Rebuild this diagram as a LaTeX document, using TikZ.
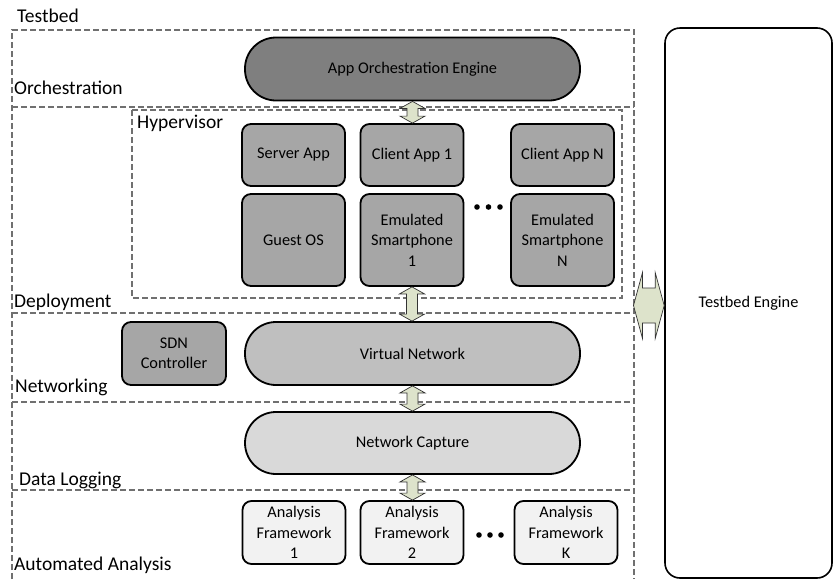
\documentclass[tikz,border=0pt]{standalone}
\usepackage{fontspec}
\setmainfont{Carlito}
\usetikzlibrary{calc}
\definecolor{orchc}{HTML}{7F7F7F}
\definecolor{hypc}{HTML}{A6A6A6}
\definecolor{vnc}{HTML}{BFBFBF}
\definecolor{ncc}{HTML}{D9D9D9}
\definecolor{afc}{HTML}{F2F2F2}
\definecolor{arrc}{HTML}{DDE3CB}
\definecolor{dashc}{HTML}{707070}
\tikzset{
  frameline/.style={draw=dashc, line width=1.1pt, dash pattern=on 6pt off 3pt},
  layerlabel/.style={anchor=base west, inner sep=0pt, font=\fontsize{19.5}{22}\selectfont},
  box/.style={draw=black, line width=1.8pt, rounded corners=9pt, align=center,
    inner sep=0pt, font=\fontsize{16.3}{20.5}\selectfont},
  smallbox/.style={box, minimum width=103pt, minimum height=62pt},
  tallbox/.style={box, minimum width=103pt, minimum height=92pt},
  stadium/.style={box, rounded corners=31pt, minimum width=335pt, minimum height=63pt},
  arrowbody/.style={draw=black!80, line width=0.7pt, fill=arrc},
  dotmark/.style={fill=black}
}
\newcommand{\vdarrow}[2]{%
  \path let \p1=(#1.south), \p2=(#2.north) in
    [arrowbody] (\x1,\y1) -- ({\x1+12.5pt},{\y1-7pt}) -- ({\x1+5.5pt},{\y1-7pt})
    -- ({\x1+5.5pt},{\y2+7pt}) -- ({\x1+12.5pt},{\y2+7pt}) -- (\x1,\y2)
    -- ({\x1-12.5pt},{\y2+7pt}) -- ({\x1-5.5pt},{\y2+7pt})
    -- ({\x1-5.5pt},{\y1-7pt}) -- ({\x1-12.5pt},{\y1-7pt}) -- cycle;}
\begin{document}
\begin{tikzpicture}[x=1pt,y=-1pt]
\useasboundingbox (0,0) rectangle (833,579);

% outer testbed frame and layer dividers
\draw[frameline] (12,579) -- (12,30) -- (634,30) -- (634,579);
\foreach \yy in {107,313,402,490} \draw[frameline] (12,\yy) -- (634,\yy);
% hypervisor frame
\draw[frameline] (132,110) rectangle (622,298);

% layer labels
\node[layerlabel] (lTestbed) at (17,22) {Testbed};
\node[layerlabel] (lOrch) at (14,94) {Orchestration};
\node[layerlabel] (lHyp) at (137,128) {Hypervisor};
\node[layerlabel] (lDep) at (14,307) {Deployment};
\node[layerlabel] (lNet) at (15,392) {Networking};
\node[layerlabel] (lLog) at (19,485) {Data Logging};
\node[layerlabel] (lAna) at (14,570) {Automated Analysis};

% boxes
\node[stadium, fill=orchc] (orch) at (412.5,69) {App Orchestration Engine};
\node[smallbox, fill=hypc] (server) at (293.5,155) {Server App};
\node[smallbox, fill=hypc] (client1) at (412,155) {Client App 1};
\node[smallbox, fill=hypc] (clientN) at (562.5,155) {Client App N};
\node[tallbox, fill=hypc] (guest) at (293.5,240) {Guest OS};
\node[tallbox, fill=hypc] (emu1) at (412,240) {Emulated\\Smartphone\\1};
\node[tallbox, fill=hypc] (emuN) at (562.5,240) {Emulated\\Smartphone\\N};
\node[box, fill=hypc, minimum width=104pt, minimum height=63pt] (sdn) at (174,353.5) {SDN\\Controller};
\node[stadium, fill=vnc] (vn) at (412.5,353.5) {Virtual Network};
\node[stadium, fill=ncc, minimum height=62pt] (nc) at (412.5,443) {Network Capture};
\node[smallbox, fill=afc, minimum height=63pt] (af1) at (294,532.5) {Analysis\\Framework\\1};
\node[smallbox, fill=afc, minimum height=63pt] (af2) at (412,532.5) {Analysis\\Framework\\2};
\node[smallbox, fill=afc, minimum height=63pt] (afK) at (566,532.5) {Analysis\\Framework\\K};
\node[box, rounded corners=15pt, line width=1.6pt, minimum width=167pt, minimum height=550pt] (engine) at (748.5,303) {Testbed Engine};

% ellipsis dots
\foreach \xx in {477,488.5,500} \fill[dotmark] (\xx,207) circle (2.8pt);
\foreach \xx in {479,490,501} \fill[dotmark] (\xx,535) circle (2.8pt);

% vertical double arrows
\vdarrow{orch}{client1}
\vdarrow{emu1}{vn}
\vdarrow{vn}{nc}
\vdarrow{nc}{af2}

% horizontal double arrow between testbed and engine
\coordinate (frameR) at (633.5,305.5);
\path let \p1=(frameR), \p2=(engine.west |- frameR) in
  [arrowbody] (\x1,\y1) -- ({\x1+9pt},{\y1+33pt}) -- ({\x1+9pt},{\y1+17.5pt})
  -- ({\x2-9pt},{\y1+17.5pt}) -- ({\x2-9pt},{\y1+33pt}) -- (\x2,\y1)
  -- ({\x2-9pt},{\y1-33pt}) -- ({\x2-9pt},{\y1-17.5pt})
  -- ({\x1+9pt},{\y1-17.5pt}) -- ({\x1+9pt},{\y1-33pt}) -- cycle;
\end{tikzpicture}
\end{document}
